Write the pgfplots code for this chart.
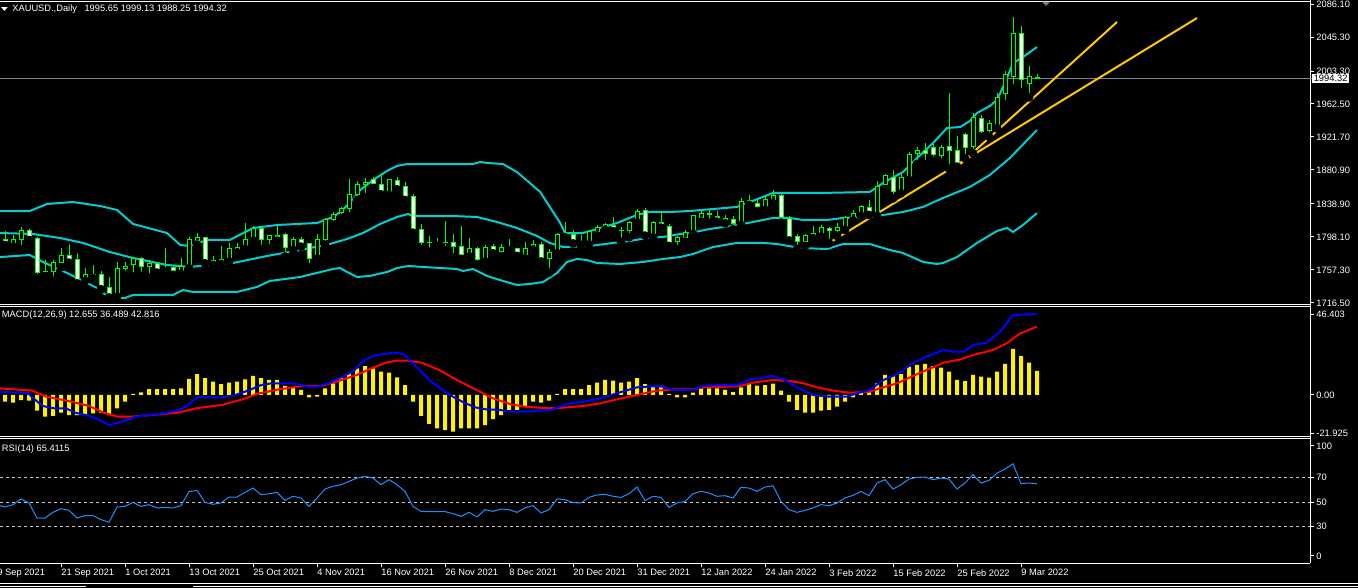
\documentclass[border=0pt]{standalone}
\usepackage{pgfplots}
\pgfplotsset{compat=1.18}
\usepackage{pgfplotstable}
\usepackage{fontspec}
\setmainfont{Liberation Sans}

\definecolor{mtgreen}{RGB}{0,255,0}
\definecolor{bbcyan}{RGB}{0,206,209}
\definecolor{tlgold}{RGB}{255,200,0}
\definecolor{rsiblue}{RGB}{30,144,255}
\definecolor{lvl}{RGB}{200,200,200}
\definecolor{pline}{RGB}{119,136,153}
\newcommand\mt{\fontsize{4.65}{5.6}\selectfont}

% daily XAUUSD candles, i = bar number
\pgfplotstableread{
i O H L C
0 1795.2 1805.5 1788.2 1790.2
1 1789.8 1800.5 1786.1 1795.2
2 1795.2 1810.0 1782.8 1805.9
3 1805.9 1808.4 1794.4 1795.2
4 1796.4 1797.7 1747.0 1754.4
5 1755.0 1769.6 1749.0 1756.0
6 1755.2 1769.6 1744.1 1766.3
7 1766.3 1784.1 1760.6 1775.4
8 1775.4 1789.0 1766.3 1770.5
9 1770.5 1777.9 1740.8 1742.9
10 1745.7 1759.3 1743.7 1751.9
11 1751.5 1763.0 1747.0 1751.9
12 1751.9 1756.5 1733.4 1735.9
13 1735.9 1748.2 1723.1 1728.4
14 1727.6 1767.2 1724.3 1759.3
15 1759.3 1767.2 1751.1 1762.2
16 1763.5 1772.9 1749.0 1770.9
17 1770.9 1772.9 1749.9 1762.2
18 1761.4 1769.6 1747.8 1765.5
19 1765.5 1767.6 1754.0 1756.5
20 1758.0 1784.5 1755.2 1758.6
21 1760.2 1763.5 1751.1 1756.5
22 1755.2 1772.5 1752.3 1761.4
23 1760.6 1797.7 1759.3 1795.2
24 1793.5 1802.6 1788.6 1797.7
25 1797.2 1797.7 1765.5 1769.2
26 1769.6 1774.6 1763.5 1766.3
27 1766.3 1786.9 1764.7 1770.5
28 1770.5 1790.2 1767.6 1784.1
29 1782.4 1791.1 1778.7 1785.3
30 1784.9 1815.0 1783.2 1795.2
31 1794.4 1811.7 1793.5 1808.8
32 1808.8 1810.0 1783.2 1795.2
33 1795.2 1800.5 1784.1 1799.3
34 1798.5 1811.7 1793.5 1800.1
35 1801.4 1802.6 1773.8 1785.3
36 1784.9 1797.7 1782.0 1795.2
37 1795.2 1797.7 1786.1 1790.2
38 1790.2 1790.2 1760.6 1771.7
39 1771.7 1801.8 1771.3 1794.4
40 1794.4 1821.1 1788.2 1819.9
41 1819.9 1828.6 1812.9 1825.3
42 1828.1 1834.7 1821.1 1833.5
43 1833.5 1869.8 1823.2 1850.8
44 1850.8 1867.3 1843.8 1863.2
45 1863.2 1870.6 1847.1 1865.6
46 1869.3 1871.8 1858.2 1864.4
47 1863.2 1877.6 1850.8 1852.0
48 1850.8 1869.3 1850.0 1869.3
49 1867.7 1871.8 1857.0 1861.1
50 1860.3 1866.5 1843.8 1847.1
51 1847.9 1851.2 1803.4 1805.9
52 1807.5 1814.1 1783.2 1791.5
53 1791.5 1799.3 1779.9 1791.1
54 1791.1 1796.4 1787.4 1790.8
55 1790.8 1817.8 1782.0 1791.2
56 1791.1 1801.4 1772.9 1786.1
57 1786.1 1811.7 1770.9 1776.6
58 1776.6 1796.4 1773.8 1784.1
59 1784.1 1785.3 1763.5 1770.5
60 1770.5 1788.2 1767.6 1785.3
61 1786.1 1789.4 1777.9 1779.9
62 1779.9 1789.0 1773.8 1785.3
63 1785.0 1795.2 1781.2 1784.9
64 1784.1 1784.9 1774.6 1776.6
65 1776.6 1792.3 1771.7 1784.1
66 1783.6 1794.4 1782.0 1789.0
67 1788.2 1791.5 1767.6 1772.9
68 1771.7 1782.8 1754.0 1779.1
69 1779.1 1802.6 1777.9 1801.4
70 1801.4 1816.2 1797.7 1801.0
71 1801.4 1806.7 1790.2 1792.3
72 1791.5 1800.5 1788.2 1791.1
73 1790.2 1806.7 1789.0 1804.7
74 1804.7 1812.9 1800.1 1810.0
75 1808.8 1815.8 1806.7 1814.1
76 1812.1 1822.4 1805.5 1807.5
77 1806.7 1810.0 1792.3 1806.5
78 1805.9 1817.8 1797.7 1816.2
79 1817.0 1832.3 1815.8 1830.2
80 1830.6 1834.3 1799.7 1802.6
81 1802.6 1817.8 1797.7 1816.2
82 1816.2 1830.6 1809.6 1812.1
83 1810.8 1814.1 1787.0 1791.5
84 1793.1 1799.7 1783.2 1797.7
85 1797.7 1806.8 1792.3 1803.5
86 1802.6 1825.3 1801.8 1824.1
87 1822.4 1830.7 1817.1 1827.4
88 1825.3 1831.5 1815.0 1827.4
89 1823.2 1830.7 1817.1 1819.1
90 1819.1 1825.3 1815.0 1821.2
91 1819.9 1824.1 1807.6 1815.0
92 1815.0 1845.9 1812.9 1841.8
93 1841.8 1850.0 1837.7 1843.0
94 1839.7 1843.8 1829.4 1835.6
95 1834.8 1847.1 1831.5 1844.7
96 1843.0 1856.2 1839.7 1849.6
97 1848.8 1850.8 1815.8 1822.4
98 1821.2 1824.1 1793.6 1798.5
99 1798.5 1801.8 1782.8 1792.3
100 1792.3 1801.8 1787.0 1799.3
101 1798.5 1811.7 1796.5 1802.6
102 1801.4 1812.9 1798.5 1809.6
103 1808.8 1810.9 1790.3 1805.9
104 1805.9 1815.8 1799.3 1810.1
105 1808.8 1824.1 1806.8 1822.0
106 1821.2 1831.5 1818.3 1827.4
107 1826.1 1837.7 1824.1 1835.6
108 1834.8 1843.8 1825.3 1828.2
109 1827.4 1867.7 1824.1 1860.3
110 1862.4 1876.0 1857.0 1873.5
111 1871.8 1880.9 1845.9 1854.1
112 1854.1 1877.6 1852.1 1871.4
113 1870.6 1903.6 1868.6 1899.5
114 1900.7 1909.8 1888.3 1905.6
115 1905.6 1913.9 1888.3 1901.5
116 1908.9 1913.0 1892.4 1900.3
117 1898.6 1911.8 1890.0 1908.9
118 1910.2 1976.5 1882.8 1905.2
119 1904.4 1923.0 1885.0 1889.2
120 1925.4 1927.1 1895.3 1908.9
121 1909.8 1951.0 1901.5 1946.1
122 1944.0 1948.9 1921.3 1928.3
123 1929.5 1942.7 1922.1 1937.8
124 1935.3 1975.7 1932.4 1970.8
125 1974.9 2003.7 1962.1 1998.4
126 1996.3 2070.5 1981.9 2049.9
127 2049.9 2059.0 1976.5 1993.4
128 1988.1 2009.9 1970.8 1996.3
129 1995.65 1999.13 1988.25 1994.32
}\candles

\pgfplotstableread{
i h
0 -3.8
1 -4.4
2 -2.9
3 -3.2
4 -9.0
5 -12.4
6 -12.0
7 -10.1
8 -11.5
9 -11.5
10 -11.5
11 -10.5
12 -10.1
13 -11.5
14 -7.6
15 -3.8
16 0.6
17 1.5
18 3.4
19 3.4
20 3.4
21 3.4
22 3.8
23 9.2
24 12.0
25 9.7
26 7.6
27 6.3
28 7.1
29 7.6
30 9.0
31 10.9
32 9.6
33 8.6
34 8.6
35 5.2
36 4.4
37 2.9
38 -1.3
39 -1.0
40 3.8
41 6.7
42 9.6
43 12.4
44 15.3
45 16.6
46 15.3
47 13.4
48 12.8
49 10.1
50 5.7
51 -3.8
52 -12.0
53 -16.6
54 -19.1
55 -20.1
56 -21.0
57 -19.1
58 -19.1
59 -19.1
60 -17.2
61 -13.9
62 -11.5
63 -8.6
64 -8.6
65 -6.3
66 -3.8
67 -4.4
68 -3.2
69 0.6
70 3.4
71 3.4
72 3.4
73 5.7
74 7.1
75 8.6
76 8.2
77 7.1
78 7.6
79 9.7
80 6.3
81 5.2
82 4.4
83 0.6
84 -1.3
85 -1.3
86 1.3
87 3.8
88 3.8
89 3.8
90 2.9
91 1.7
92 4.4
93 6.3
94 5.3
95 5.7
96 6.5
97 2.5
98 -3.8
99 -8.6
100 -10.1
101 -10.1
102 -9.0
103 -8.6
104 -6.7
105 -3.8
106 -1.3
107 1.0
108 1.9
109 6.7
110 11.5
111 10.9
112 12.0
113 16.2
114 17.2
115 17.8
116 16.6
117 15.7
118 13.4
119 8.6
120 8.0
121 11.5
122 10.5
123 9.9
124 13.4
125 17.8
126 26.4
127 22.3
128 18.5
129 13.8
}\macdhist

\pgfplotstableread{
i r
-0.625 47.0
0 45.9
1 47.8
2 52.5
3 49.2
4 36.8
5 36.8
6 41.5
7 44.5
8 43.2
9 36.8
10 38.8
11 38.8
12 35.5
13 33.3
14 45.9
15 46.4
16 49.7
17 46.4
18 47.8
19 45.1
20 45.6
21 45.1
22 47.0
23 58.5
24 59.6
25 49.7
26 48.1
27 49.2
28 54.1
29 54.1
30 57.9
31 61.5
32 56.0
33 56.8
34 57.9
35 51.4
36 54.7
37 53.3
38 46.4
39 53.3
40 60.7
41 62.9
42 64.2
43 67.0
44 69.7
45 71.1
46 69.7
47 64.2
48 68.4
49 64.2
50 58.8
51 46.4
52 42.3
53 42.1
54 42.1
55 42.1
56 40.4
57 38.2
58 41.5
59 37.7
60 43.7
61 42.3
62 44.2
63 43.7
64 41.5
65 45.1
66 47.0
67 41.0
68 43.7
69 52.5
70 51.9
71 49.5
72 49.2
73 53.8
74 55.8
75 56.3
76 54.7
77 53.8
78 56.8
79 62.3
80 51.1
81 54.7
82 53.8
83 45.6
84 49.2
85 50.5
86 56.8
87 58.8
88 57.4
89 54.7
90 55.2
91 53.3
92 62.1
93 61.5
94 58.8
95 62.3
96 63.4
97 50.5
98 43.7
99 41.5
100 43.2
101 45.1
102 47.8
103 47.0
104 49.2
105 53.3
106 55.5
107 58.8
108 55.2
109 65.6
110 68.4
111 60.7
112 64.2
113 68.9
114 70.3
115 70.5
116 68.4
117 69.7
118 68.9
119 60.7
120 65.6
121 72.5
122 65.6
123 67.8
124 73.8
125 77.1
126 81.5
127 65.1
128 65.6
129 65.1
}\rsi

\pgfplotsset{
  mtaxis/.style={
    scale only axis, width=655pt,
    xmin=-0.625, xmax=163.125,
    axis line style={draw=none},
    xtick=\empty,
    ytick pos=right, yticklabel pos=right,
    tick align=outside, major tick length=2pt,
    tick style={white, line width=0.5pt},
    yticklabel style={anchor=west, inner sep=0pt, xshift=1pt, font=\mt, text=white},
  },
}

\begin{document}
\begin{tikzpicture}
\fill[black] (-5pt,5pt) rectangle (685pt,-300pt);

% ---- price panel
\begin{axis}[mtaxis, at={(0pt,0pt)}, anchor=north west, height=152pt,
  ymin=1715.22, ymax=2091.09,
  ytick={2086.10,2045.30,2003.30,1962.50,1921.70,1880.90,1838.90,1798.10,1757.30,1716.50},
  yticklabels={2086.10,2045.30,2003.30,1962.50,1921.70,1880.90,1838.90,1798.10,1757.30,1716.50}]
\addplot[pline, line width=0.5pt] coordinates {(-0.625,1994.32) (163.125,1994.32)};
% bollinger bands (20,2)
\addplot[bbcyan, line width=1pt] coordinates {
(-0.625,1830.2) (3.1,1830.2) (5.25,1838.9) (8.5,1841.3) (11.9,1836.4) (14,1831.5) (16,1814.2)
(20.25,1803.0) (21.9,1788.2) (23.1,1786.9) (25.25,1794.4) (28.1,1794.4) (31,1809.2) (34,1812.9)
(39,1815.4) (41,1822.8) (41.9,1829.0) (43.1,1840.1) (44.4,1856.2) (46,1868.5) (47.75,1879.7)
(49,1885.9) (50.25,1888.3) (58.5,1888.3) (59.4,1890.8) (60.25,1889.6) (62.25,1888.3) (64,1878.4)
(65.6,1864.8) (66.9,1853.7) (68.1,1835.2) (69.4,1815.4) (70,1803.0) (72.25,1803.0) (74,1808.0)
(76.5,1815.4) (79,1825.3) (80.6,1829.0) (83.1,1829.0) (85.6,1830.2) (91.5,1835.2) (93.1,1841.3)
(96,1852.5) (101.9,1852.5) (108.1,1853.7) (109.75,1864.8) (112.25,1878.4) (114,1895.7)
(116,1914.3) (117.75,1932.8) (119.4,1934.1) (120.6,1941.5) (121.5,1951.4) (123.1,1960.0)
(124,1967.5) (124.75,1983.5) (125.4,1998.4) (126,2013.2) (127.25,2020.6) (129,2033.0)};
\addplot[bbcyan, line width=1pt] coordinates {
(-0.625,1803.0) (3.5,1801.8) (6.9,1796.8) (9.75,1790.7) (13.1,1779.5) (16,1772.1) (20.25,1763.5)
(23.1,1761.0) (24.4,1762.2) (28.5,1765.9) (32.75,1774.6) (36.9,1782.0) (40.6,1789.4) (42.75,1795.6)
(44.75,1803.0) (46.9,1814.2) (49,1822.8) (50.4,1826.5) (51,1824.0) (56,1824.0) (59,1822.8)
(61.5,1816.6) (64,1809.2) (66.5,1799.3) (68.1,1790.7) (69.75,1785.7) (73.1,1786.9) (76,1790.7)
(78.1,1793.1) (80.25,1796.8) (82.25,1798.1) (84.4,1801.8) (85.6,1803.0) (88.1,1808.0) (91.5,1812.9)
(93.5,1816.6) (96,1821.6) (98.1,1821.6) (99.75,1819.1) (102.75,1819.1) (104.75,1821.6)
(108.1,1822.8) (112.25,1829.0) (114.75,1835.2) (117.25,1846.3) (120.6,1859.9) (123.1,1874.7)
(125.6,1895.7) (129,1930.4)};
\addplot[bbcyan, line width=1pt] coordinates {
(-0.625,1773.3) (3.1,1775.8) (4.75,1767.2) (7.75,1753.6) (11.5,1735.0) (13.1,1722.7) (15,1722.7)
(16,1726.4) (21,1726.4) (22.25,1732.5) (23.5,1730.1) (29,1730.1) (31.5,1736.3) (33.1,1743.7)
(36.9,1748.6) (41,1758.5) (41.9,1759.7) (42.75,1754.8) (44,1748.6) (45.6,1749.9) (47.75,1754.8)
(49,1759.7) (50.4,1762.2) (52.25,1761.0) (56.5,1758.5) (57.25,1756.0) (58.5,1758.5) (60.25,1749.9)
(62.25,1743.7) (64,1738.7) (65.6,1740.0) (67.25,1742.4) (69,1753.6) (70.25,1767.2) (71.5,1770.9)
(72.75,1769.6) (74,1765.9) (76.9,1764.7) (79.75,1767.2) (82.25,1770.9) (84.4,1773.3) (86,1777.1)
(88.5,1785.7) (91.5,1790.7) (94.75,1790.7) (96.5,1789.4) (99.4,1784.5) (102.75,1783.2)
(104.75,1789.4) (108.1,1789.4) (110.6,1782.0) (112.25,1778.3) (114.75,1767.2) (116.5,1764.7)
(117.25,1765.9) (119,1773.3) (121.5,1790.7) (124,1805.5) (125.25,1809.2) (126,1804.3)
(127.25,1812.9) (129,1827.7)};
% trend lines
\addplot[tlgold, line width=1pt] coordinates {(103,1790.7) (149,2068.8)};
\addplot[tlgold, line width=1pt] coordinates {(119,1884.6) (139,2063.9)};
% candles: wicks as error bars from low to high
\addplot[only marks, mark=none, forget plot,
  error bars/.cd, y dir=plus, y explicit, error mark=none,
  error bar style={draw=mtgreen, line width=0.5pt}]
  table[x=i, y=L, y error expr=\thisrow{H}-\thisrow{L}] {\candles};
% candle bodies: black inside when up, white when down, green frame
\pgfplotsinvokeforeach{0,...,129}{
  \pgfplotstablegetelem{#1}{O}\of\candles \let\cO\pgfplotsretval
  \pgfplotstablegetelem{#1}{C}\of\candles \let\cC\pgfplotsretval
  \pgfmathsetmacro\xl{#1-0.25}
  \pgfmathsetmacro\xr{#1+0.25}
  \pgfmathtruncatemacro\isdown{\cC<\cO}
  \ifnum\isdown=1 \def\cF{white}\else\def\cF{black}\fi
  \edef\temp{\noexpand\addplot[draw=mtgreen, line width=0.5pt, fill=\cF, forget plot]
    coordinates {(\xl,\cO) (\xr,\cO) (\xr,\cC) (\xl,\cC)} -- cycle;}
  \temp
}
\end{axis}

% ---- MACD panel
\begin{axis}[mtaxis, at={(0pt,-153.25pt)}, anchor=north west, height=64.75pt,
  ymin=-23.50, ymax=50.72,
  ytick={46.403,0,-21.925}, yticklabels={46.403,0.00,-21.925}]
\addplot[ybar, bar width=2pt, fill=yellow, draw=none] table[x=i, y=h] {\macdhist};
\addplot[red, line width=1pt] coordinates {
(-0.625,3.8) (3.4,2.5) (5.2,-1.0) (8.3,-3.8) (10.5,-6.3) (12.3,-10.1) (14.1,-12.4) (15.9,-12.4)
(18.1,-11.5) (21.7,-10.1) (23.9,-7.6) (27.1,-5.7) (29.7,-2.5) (31.5,0.6) (34.2,3.2) (37.3,5.2)
(39.6,5.2) (41.8,8.2) (44.0,11.5) (45.8,15.3) (47.6,18.5) (48.9,19.7) (50.3,19.7) (52.1,18.5)
(54.3,14.3) (56.5,8.6) (58.8,3.2) (61.0,-1.9) (63.2,-5.3) (65.0,-6.7) (67.2,-7.4) (68.75,-7.6)
(70.2,-7.1) (72.3,-6.3) (74.4,-4.8) (76.5,-2.5) (79.0,0) (81.5,2.5) (83.5,3.2) (86.0,3.2)
(87.3,4.4) (90.2,4.8) (91.9,5.2) (93.5,7.1) (96.0,8.6) (98.1,8.0) (99.8,6.7) (101.5,4.4)
(103.5,2.5) (105.6,1.3) (108.1,1.9) (109.8,4.4) (111.5,6.7) (113.5,10.9) (115.2,14.3)
(117.3,18.5) (119.4,20.4) (121.0,22.9) (123.5,25.8) (125.2,29.6) (126.9,35.3) (129,39.2)};
\addplot[blue, line width=1pt] coordinates {
(-0.625,1.9) (2.9,1.0) (3.8,-2.9) (4.7,-6.3) (6.1,-7.6) (7.6,-7.6) (8.75,-10.1) (10.1,-11.5)
(11.4,-13.4) (13.0,-17.2) (14.1,-15.9) (15.2,-14.3) (16.3,-12.4) (18.1,-11.5) (19.9,-10.5)
(21.7,-8.6) (22.6,-6.7) (24.1,-1.0) (25.0,-1.3) (27.1,-1.3) (28.8,0) (30.6,2.9) (32.0,5.7)
(33.3,6.7) (36.0,6.7) (37.8,4.8) (39.1,4.8) (40.4,6.7) (42.2,10.5) (43.6,13.9) (44.9,20.1)
(46.3,22.9) (47.6,23.5) (48.5,24.3) (49.8,23.5) (51.2,17.2) (53.0,8.6) (54.7,2.9) (56.1,-1.3)
(57.4,-4.4) (58.8,-7.1) (60.1,-8.2) (61.9,-8.6) (63.2,-9.6) (65.0,-9.6) (66.5,-9.0) (68.1,-8.8)
(70.2,-5.2) (72.3,-3.8) (74.0,-2.5) (76.5,1.0) (79.0,4.4) (81.9,5.2) (83.5,2.9) (86.0,2.9)
(87.3,5.2) (89.4,5.7) (91.5,5.7) (93.1,9.0) (94.4,9.6) (96.0,10.9) (97.3,9.0) (99.0,4.4)
(101.0,0) (103.1,-1.0) (105.2,-1.0) (106.5,1.0) (108.1,2.9) (109.8,8.6) (110.6,10.1)
(111.9,12.8) (113.5,18.5) (115.2,22.0) (117.3,25.8) (118.5,24.8) (119.8,24.8) (121.0,28.7)
(122.7,30.0) (124.4,36.3) (126.0,45.8) (129,46.4)};
\end{axis}

% ---- RSI panel
\begin{axis}[mtaxis, at={(0pt,-219.5pt)}, anchor=north west, height=62pt,
  ymin=-0.2, ymax=101.85,
  ytick={96.1,70,50,30,5.6}, yticklabels={100,70,50,30,0},
  xtick={7,15,...,127}, xtick pos=bottom,
  xticklabels={21 Sep 2021,1 Oct 2021,13 Oct 2021,25 Oct 2021,4 Nov 2021,16 Nov 2021,
    26 Nov 2021,8 Dec 2021,20 Dec 2021,31 Dec 2021,12 Jan 2022,24 Jan 2022,3 Feb 2022,
    15 Feb 2022,25 Feb 2022,9 Mar 2022},
  xticklabel style={anchor=north west, inner sep=0pt, yshift=-1pt, font=\mt, text=white}]
\addplot[lvl, line width=0.5pt, dash pattern=on 1.5pt off 1.5pt] coordinates {(-0.625,70) (163.125,70)};
\addplot[lvl, line width=0.5pt, dash pattern=on 1.5pt off 1.5pt] coordinates {(-0.625,50) (163.125,50)};
\addplot[lvl, line width=0.5pt, dash pattern=on 1.5pt off 1.5pt] coordinates {(-0.625,30) (163.125,30)};
\addplot[rsiblue, line width=0.5pt] table[x=i, y=r] {\rsi};
\end{axis}

% ---- window frame, separators and captions
\begin{scope}[white, line width=0.5pt]
\draw (0pt,-0.75pt) -- (655pt,-0.75pt);
\draw (655pt,0pt) -- (655pt,-281.5pt);
\draw (0pt,-152pt) -- (655pt,-152pt);
\draw (0pt,-153.25pt) -- (655pt,-153.25pt);
\draw (0pt,-218pt) -- (655pt,-218pt);
\draw (0pt,-219.25pt) -- (655pt,-219.25pt);
\draw (0pt,-281.5pt) -- (655pt,-281.5pt);
\draw (-1.5pt,-281.5pt) -- (-1.5pt,-283.5pt);
\draw (0pt,-291.8pt) -- (679pt,-291.8pt);
\draw (0pt,-293.4pt) -- (43pt,-293.4pt);
\draw (96.5pt,-293.4pt) -- (679pt,-293.4pt);
\end{scope}
\node[anchor=north west, inner sep=0pt, font=\mt, text=white] at (-1.5pt,-284.5pt) {9 Sep 2021};
\fill[white] (0.6pt,-3.6pt) -- (3.8pt,-3.6pt) -- (2.2pt,-5.4pt) -- cycle;
\node[anchor=west, inner sep=0pt, font=\mt, text=white] at (6pt,-4.7pt)
  {XAUUSD.,Daily\hspace{2.5pt} 1995.65 1999.13 1988.25 1994.32};
\node[anchor=west, inner sep=0pt, font=\mt, text=white] at (0.8pt,-157.5pt)
  {MACD(12,26,9) 12.655 36.489 42.816};
\node[anchor=west, inner sep=0pt, font=\mt, text=white] at (0.8pt,-224.3pt)
  {RSI(14) 65.4115};
\fill[gray] (521pt,-0.8pt) -- (525pt,-0.8pt) -- (523pt,-3pt) -- cycle;
\draw[pline, line width=0.5pt] (655pt,-39.2pt) -- (656pt,-39.2pt);
\node[anchor=west, fill=white, text=black, inner xsep=0.9pt, inner ysep=0.6pt, font=\mt]
  at (655.8pt,-39.2pt) {1994.32};

\pgfresetboundingbox
\path[use as bounding box] (0pt,0pt) rectangle (679pt,-294pt);
\end{tikzpicture}
\end{document}
